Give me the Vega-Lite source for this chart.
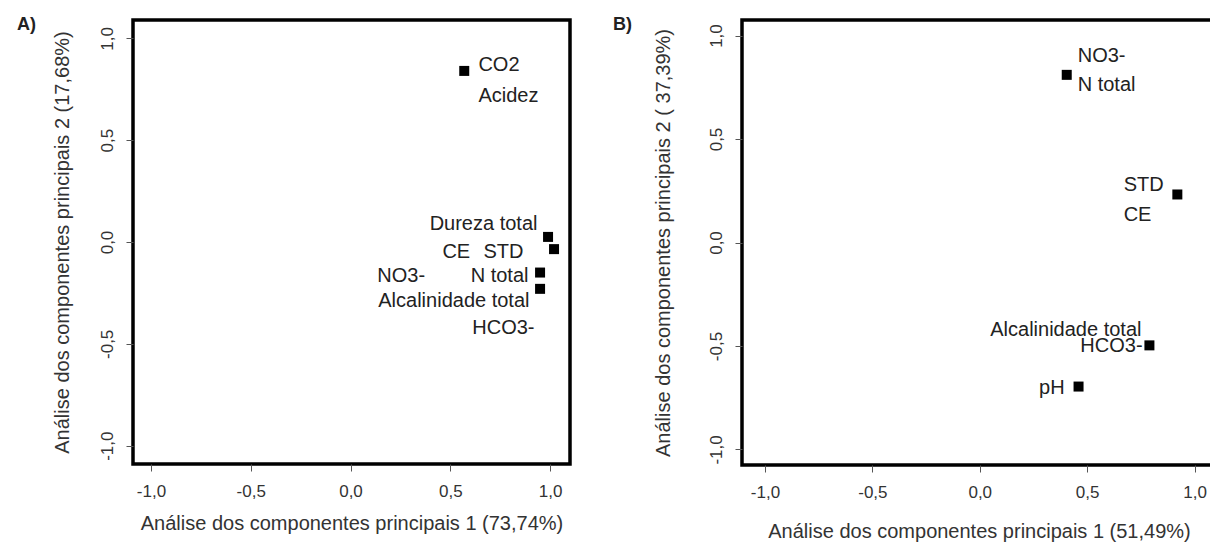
{
  "$schema": "https://vega.github.io/schema/vega-lite/v6.json",
  "background": "white",
  "padding": {"left": 15, "top": 14, "right": 0, "bottom": 0},
  "spacing": 39,
  "config": {
    "font": "Liberation Sans",
    "view": {"stroke": "black", "strokeWidth": 3.5},
    "axis": {"grid": false, "domain": false, "tickColor": "#555", "tickSize": 7, "labelFontSize": 17, "labelColor": "#333", "titleFontSize": 20, "titleFontWeight": "normal", "titleColor": "#333", "labelFont": "Liberation Sans", "titleFont": "Liberation Sans"},
    "title": {"font": "Liberation Sans", "fontSize": 18, "fontWeight": "bold", "color": "#222"}
  },
  "datasets": {
    "pointsA": [
      {"pc1": 0.57, "pc2": 0.84},
      {"pc1": 0.99, "pc2": 0.025},
      {"pc1": 1.02, "pc2": -0.035},
      {"pc1": 0.95, "pc2": -0.15},
      {"pc1": 0.95, "pc2": -0.23}
    ],
    "labelsA": [
      {"label": "CO2", "pc1": 0.641, "pc2": 0.867},
      {"label": "Acidez", "pc1": 0.641, "pc2": 0.719},
      {"label": "Dureza total", "pc1": 0.937, "pc2": 0.089},
      {"label": "CE", "pc1": 0.60, "pc2": -0.049},
      {"label": "STD", "pc1": 0.867, "pc2": -0.049},
      {"label": "NO3-", "pc1": 0.374, "pc2": -0.167},
      {"label": "N total", "pc1": 0.892, "pc2": -0.167},
      {"label": "Alcalinidade total", "pc1": 0.897, "pc2": -0.29},
      {"label": "HCO3-", "pc1": 0.922, "pc2": -0.424}
    ],
    "pointsB": [
      {"pc1": 0.405, "pc2": 0.81},
      {"pc1": 0.92, "pc2": 0.232},
      {"pc1": 0.79, "pc2": -0.497},
      {"pc1": 0.46, "pc2": -0.696}
    ],
    "labelsB": [
      {"label": "NO3-", "pc1": 0.456, "pc2": 0.899},
      {"label": "N total", "pc1": 0.456, "pc2": 0.763},
      {"label": "STD", "pc1": 0.67, "pc2": 0.28},
      {"label": "CE", "pc1": 0.67, "pc2": 0.135},
      {"label": "Alcalinidade total", "pc1": 0.753, "pc2": -0.425},
      {"label": "HCO3-", "pc1": 0.758, "pc2": -0.5},
      {"label": "pH", "pc1": 0.395, "pc2": -0.705}
    ]
  },
  "hconcat": [
    {
      "width": 437,
      "height": 444,
      "title": {"text": "A)", "anchor": "start", "frame": "bounds", "orient": "top", "offset": -14, "dx": -35},
      "layer": [
        {
          "mark": {"type": "rule", "color": "#8a8a8a", "strokeWidth": 2},
          "encoding": {"x": {"datum": 0, "type": "quantitative"}}
        },
        {
          "mark": {"type": "rule", "color": "#333", "strokeWidth": 1.5},
          "encoding": {"y": {"datum": 0, "type": "quantitative"}}
        },
        {
          "data": {"name": "pointsA"},
          "mark": {"type": "point", "shape": "square", "filled": true, "color": "black", "size": 100, "opacity": 1},
          "encoding": {
            "x": {"field": "pc1", "type": "quantitative", "scale": {"domain": [-1.09, 1.1], "nice": false, "zero": false},
              "axis": {"values": [-1, -0.5, 0, 0.5, 1], "labelExpr": "(datum.value < 0 ? '-' : '') + replace(format(abs(datum.value), '.1f'), '.', ',')", "labelPadding": 12, "titlePadding": 14, "title": "Análise dos componentes principais 1 (73,74%)"}},
            "y": {"field": "pc2", "type": "quantitative", "scale": {"domain": [-1.09, 1.09], "nice": false, "zero": false},
              "axis": {"values": [-1, -0.5, 0, 0.5, 1], "labelAngle": -90, "labelExpr": "(datum.value < 0 ? '-' : '') + replace(format(abs(datum.value), '.1f'), '.', ',')", "labelPadding": 10, "titlePadding": 26, "title": "Análise dos componentes principais 2 (17,68%)"}}
          }
        },
        {
          "data": {"name": "labelsA"},
          "transform": [{"filter": "indexof(['CO2', 'Acidez'], datum.label) >= 0"}],
          "mark": {"type": "text", "align": "left", "baseline": "middle", "fontSize": 20, "color": "#222"},
          "encoding": {"x": {"field": "pc1", "type": "quantitative"}, "y": {"field": "pc2", "type": "quantitative"}, "text": {"field": "label"}}
        },
        {
          "data": {"name": "labelsA"},
          "transform": [{"filter": "indexof(['CO2', 'Acidez'], datum.label) < 0"}],
          "mark": {"type": "text", "align": "right", "baseline": "middle", "fontSize": 20, "color": "#222"},
          "encoding": {"x": {"field": "pc1", "type": "quantitative"}, "y": {"field": "pc2", "type": "quantitative"}, "text": {"field": "label"}}
        }
      ]
    },
    {
      "width": 474,
      "height": 445,
      "title": {"text": "B)", "anchor": "start", "frame": "bounds", "orient": "top", "offset": -14, "dx": -40},
      "layer": [
        {
          "mark": {"type": "rule", "color": "#555", "strokeWidth": 1.5},
          "encoding": {"x": {"datum": 0, "type": "quantitative"}}
        },
        {
          "mark": {"type": "rule", "color": "#111", "strokeWidth": 1.5},
          "encoding": {"y": {"datum": 0, "type": "quantitative"}}
        },
        {
          "data": {"name": "pointsB"},
          "mark": {"type": "point", "shape": "square", "filled": true, "color": "black", "size": 100, "opacity": 1},
          "encoding": {
            "x": {"field": "pc1", "type": "quantitative", "scale": {"domain": [-1.107, 1.1], "nice": false, "zero": false},
              "axis": {"values": [-1, -0.5, 0, 0.5, 1], "labelExpr": "(datum.value < 0 ? '-' : '') + replace(format(abs(datum.value), '.1f'), '.', ',')", "labelPadding": 12, "titlePadding": 21, "title": "Análise dos componentes principais 1 (51,49%)"}},
            "y": {"field": "pc2", "type": "quantitative", "scale": {"domain": [-1.075, 1.075], "nice": false, "zero": false},
              "axis": {"values": [-1, -0.5, 0, 0.5, 1], "labelAngle": -90, "labelExpr": "(datum.value < 0 ? '-' : '') + replace(format(abs(datum.value), '.1f'), '.', ',')", "labelPadding": 10, "titlePadding": 34, "title": "Análise dos componentes principais 2 ( 37,39%)"}}
          }
        },
        {
          "data": {"name": "labelsB"},
          "transform": [{"filter": "indexof(['NO3-', 'N total', 'STD', 'CE'], datum.label) >= 0"}],
          "mark": {"type": "text", "align": "left", "baseline": "middle", "fontSize": 20, "color": "#222"},
          "encoding": {"x": {"field": "pc1", "type": "quantitative"}, "y": {"field": "pc2", "type": "quantitative"}, "text": {"field": "label"}}
        },
        {
          "data": {"name": "labelsB"},
          "transform": [{"filter": "indexof(['NO3-', 'N total', 'STD', 'CE'], datum.label) < 0"}],
          "mark": {"type": "text", "align": "right", "baseline": "middle", "fontSize": 20, "color": "#222"},
          "encoding": {"x": {"field": "pc1", "type": "quantitative"}, "y": {"field": "pc2", "type": "quantitative"}, "text": {"field": "label"}}
        }
      ]
    }
  ]
}
